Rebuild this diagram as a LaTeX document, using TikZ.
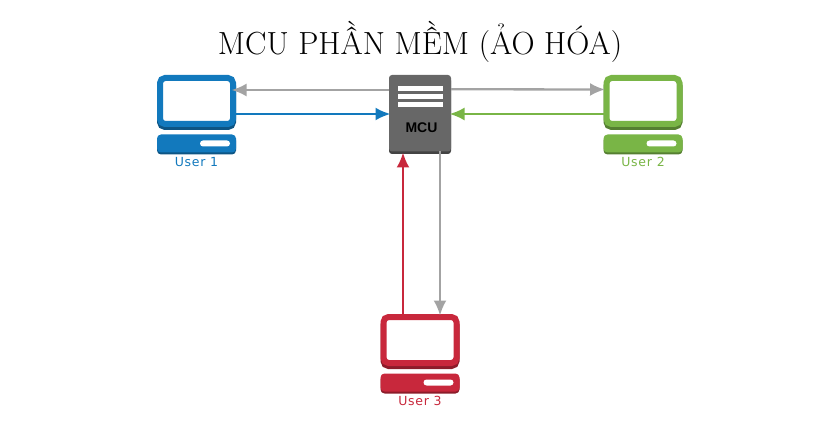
\documentclass[tikz,border=0pt]{standalone}
\usepackage{fontspec}
\newfontfamily\labelfont[LetterSpace=6]{DejaVu Sans}
\newfontfamily\boxfont{Liberation Sans}
\usetikzlibrary{positioning, arrows.meta, shadows}
\definecolor{userblue}{HTML}{1279BD}
\definecolor{usergreen}{HTML}{79B546}
\definecolor{userred}{HTML}{C8283C}
\definecolor{linkgray}{HTML}{A3A3A3}
\definecolor{mcugray}{HTML}{676767}
\tikzset{
  >={Latex[length=15pt,width=13pt]},
  link/.style={->, line width=2.3pt, shorten >=-1.5pt},
  screen/.style={rectangle, rounded corners=5pt, draw=#1, line width=6pt, fill=white,
    minimum width=73pt, minimum height=46pt, inner sep=0pt,
    drop shadow={shadow xshift=0pt, shadow yshift=-3pt, fill=#1!70!black, draw=#1!70!black, opacity=1}},
  keyboard/.style={rectangle, rounded corners=4pt, fill=#1, minimum width=79pt, minimum height=18pt,
    inner sep=0pt, outer sep=0pt,
    drop shadow={shadow xshift=0pt, shadow yshift=-2pt, fill=#1!70!black, opacity=1}},
  slot/.style={rectangle, rounded corners=3pt, fill=white, minimum width=30pt, minimum height=6pt,
    inner sep=0pt, outer sep=0pt},
  username/.style={text=#1, font=\labelfont\fontsize{12.5}{13}\selectfont, inner sep=0pt},
  stripe/.style={rectangle, fill=white, minimum width=45pt, minimum height=5.5pt, inner sep=0pt, outer sep=0pt},
}

\begin{document}
\begin{tikzpicture}[x=1pt, y=-1pt]
      \useasboundingbox (0,0) rectangle (840,430);

      \node[anchor=base, inner sep=0pt, font=\fontsize{32}{38}\selectfont] (title) at (420,55) {MCU PHẦN MỀM (ẢO HÓA)};

      % server
      \node[rectangle, rounded corners=3pt, fill=mcugray, minimum width=62pt, minimum height=76.5pt,
            inner sep=0pt, outer sep=0pt,
            drop shadow={shadow xshift=0pt, shadow yshift=-2.5pt, fill=mcugray!65!black, opacity=1}] (mcu) at (420,113.25) {};
      \node[stripe] (s1) at (420,88.5) {};
      \node[stripe,below=2.5pt of s1] (s2) {};
      \node[stripe,below=2.5pt of s2] (s3) {};
      \node[font=\boxfont\bfseries\fontsize{14}{15}\selectfont, inner sep=0pt] (mcutext) at (421.5,128) {MCU};

      % users
      \node[screen=userblue] (u1) at (196.5,101) {};
      \node[keyboard=userblue,below=7.5pt of u1] (k1) {};
      \node[slot,left=6pt of k1.east] (b1) {};
      \node[username=userblue,below=4.5pt of k1] (n1) {User 1};

      \node[screen=usergreen] (u2) at (643,101) {};
      \node[keyboard=usergreen,below=7.5pt of u2] (k2) {};
      \node[slot,left=6pt of k2.east] (b2) {};
      \node[username=usergreen,below=4.5pt of k2] (n2) {User 2};

      \node[screen=userred] (u3) at (420,340) {};
      \node[keyboard=userred,below=7.5pt of u3] (k3) {};
      \node[slot,left=6pt of k3.east] (b3) {};
      \node[username=userred,below=4.5pt of k3] (n3) {User 3};

      \draw[link,linkgray]  ([yshift=23.25pt]mcu.west) -- ([yshift=11pt,xshift=-3pt]u1.east);
      \draw[link,userblue]  ([yshift=-13pt]u1.east) -- ([yshift=-0.75pt]mcu.west);
      \draw[link,linkgray]  ([yshift=24pt]mcu.east) -- ([yshift=11.5pt]u2.west);
      \draw[link,usergreen] ([yshift=-13pt]u2.west) -- ([yshift=-0.75pt]mcu.east);
      \draw[link,userred]   ([xshift=-17pt]u3.north) -- ([xshift=-17pt,yshift=-2.5pt]mcu.south);
      \draw[link,linkgray]  ([xshift=20pt]mcu.south) -- ([xshift=20pt]u3.north);
    \end{tikzpicture}
\end{document}
